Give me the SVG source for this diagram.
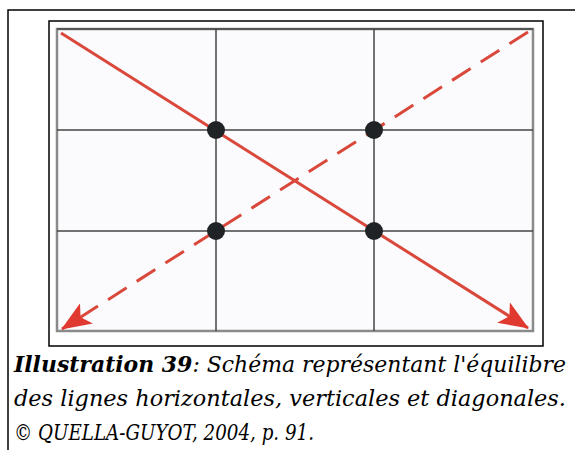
<svg xmlns="http://www.w3.org/2000/svg" width="575" height="450" viewBox="0 0 575 450">
<defs>
<style>
.frame{fill:none;stroke:#000;stroke-width:1.5}
.grid{stroke:#444;stroke-width:1.5}
.border{fill:none;stroke:#8a8a8a;stroke-width:2.5}
.diag{stroke:#d9483b;stroke-width:3;fill:none}
.dot{fill:#1f2326}
.cap{font-family:"DejaVu Serif","Liberation Serif",serif;font-style:italic;font-size:23px;fill:#000}
</style>
<marker id="arrow" viewBox="0 0 30 24" refX="29" refY="12" markerWidth="30" markerHeight="24" markerUnits="userSpaceOnUse" orient="auto">
<path d="M0,0 L30,12 L0,24 L7,12 Z" fill="#e03a30"/>
</marker>
</defs>
<rect width="575" height="450" fill="#fff"/>
<g id="outer-frame">
<path class="frame" d="M8,450 L8,10 L575,10"/>
</g>
<g id="picture">
<rect x="49" y="21" width="494" height="325" class="frame"/>
<rect x="57" y="29" width="476" height="302" fill="#fbfbfd"/>
<rect x="57" y="29" width="476" height="302" class="border"/>
<line x1="57" y1="29" x2="533" y2="29" stroke="#555" stroke-width="2"/>
</g>
<g id="grid">
<line class="grid" x1="216" y1="29" x2="216" y2="331"/>
<line class="grid" x1="374" y1="29" x2="374" y2="331"/>
<line class="grid" x1="57" y1="130" x2="533" y2="130"/>
<line class="grid" x1="57" y1="231" x2="533" y2="231"/>
</g>
<g id="connectors">
<line class="diag" x1="61" y1="33" x2="528" y2="328" marker-end="url(#arrow)"/>
<line class="diag" x1="528" y1="32" x2="62" y2="329" stroke-dasharray="22,12" marker-end="url(#arrow)"/>
</g>
<g id="dots">
<circle class="dot" cx="216" cy="130" r="9"/>
<circle class="dot" cx="374" cy="130" r="9"/>
<circle class="dot" cx="216" cy="231" r="9"/>
<circle class="dot" cx="374" cy="231" r="9"/>
</g>
<g id="caption">
<text class="cap" x="14" y="372" textLength="552" lengthAdjust="spacingAndGlyphs"><tspan font-weight="bold">Illustration 39</tspan>: Schéma représentant l'équilibre</text>
<text class="cap" x="14" y="406" textLength="552" lengthAdjust="spacingAndGlyphs">des lignes horizontales, verticales et diagonales.</text>
<text class="cap" x="14" y="440" textLength="300" lengthAdjust="spacingAndGlyphs">© QUELLA-GUYOT, 2004, p. 91.</text>
</g>
</svg>
